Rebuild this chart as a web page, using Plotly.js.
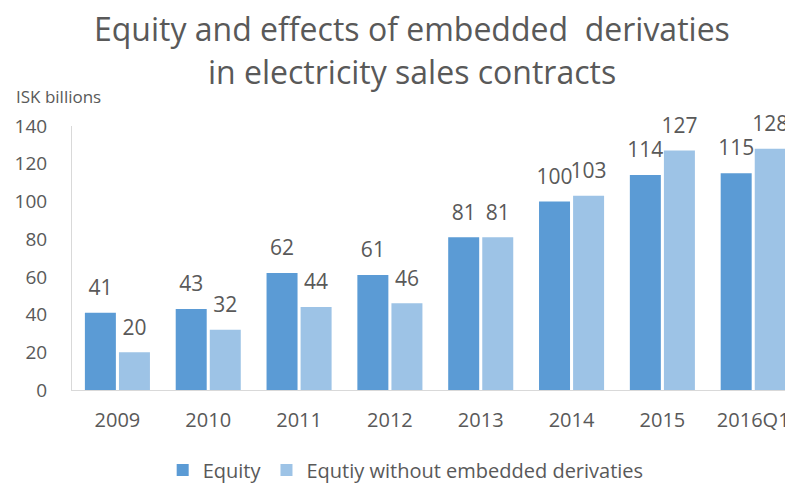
<!DOCTYPE html>
<html>
<head>
<meta charset="utf-8">
<script src="https://cdn.plot.ly/plotly-3.0.1.min.js"></script>
<style>html,body{margin:0;padding:0;background:#fff;}#chart{width:785px;height:486px;}</style>
</head>
<body>
<div id="chart"></div>
<script>
const categories = ["2009","2010","2011","2012","2013","2014","2015","2016Q1"];
const equity = [41,43,62,61,81,100,114,115];
const equityWithout = [20,32,44,46,81,103,127,128];
const seriesNames = ["Equity","Equtiy without embedded derivaties"];

const font = "Open Sans, Calibri, Carlito, sans-serif";
const grey = "#595959";
const labelTpl = "<span style='font-size:21px'>%{y}</span><br>\u00a0";

const traces = [
  {type:"bar", name:seriesNames[0], x:categories, y:equity, marker:{color:"#5B9BD5"},
   texttemplate:labelTpl, textposition:"outside", cliponaxis:false, constraintext:"none",
   textfont:{family:font,size:9,color:grey}, hoverinfo:"none"},
  {type:"bar", name:seriesNames[1], x:categories, y:equityWithout, marker:{color:"#9DC3E6"},
   texttemplate:labelTpl, textposition:"outside", cliponaxis:false, constraintext:"none",
   textfont:{family:font,size:9,color:grey}, hoverinfo:"none"}
];

const layout = {
  width:785, height:486,
  margin:{l:72, r:0, t:126, b:96, autoexpand:false},
  paper_bgcolor:"#fff", plot_bgcolor:"#fff",
  font:{family:font, color:grey},
  barmode:"group", bargap:0.25, bargroupgap:0.09,
  xaxis:{type:"category", range:[-0.5,7.35], showline:true, linecolor:"#D9D9D9", linewidth:1,
         ticks:"", tickfont:{family:font,size:20,color:grey}, showgrid:false, zeroline:false,
         ticklabelstandoff:12, fixedrange:true},
  yaxis:{range:[0,140], dtick:20, showline:true, linecolor:"#D9D9D9", linewidth:1, ticks:"",
         tickfont:{family:font,size:19,color:grey}, showgrid:false, zeroline:false, ticklabelstandoff:20, fixedrange:true},
  showlegend:true,
  legend:{orientation:"h", x:0.468, xanchor:"center", y:-0.303, yanchor:"middle",
          font:{family:font,size:20,color:grey}, tracegroupgap:0},
  annotations:[
    {text:"Equity and effects of embedded  derivaties", xref:"paper", yref:"paper", x:0.477, y:1.371,
     xanchor:"center", yanchor:"middle", showarrow:false, font:{family:font,size:32,color:grey}},
    {text:"in electricity sales contracts", xref:"paper", yref:"paper", x:0.477, y:1.205,
     xanchor:"center", yanchor:"middle", showarrow:false, font:{family:font,size:32,color:grey}},
    {text:"ISK billions", xref:"paper", yref:"paper", x:-0.0813, y:1.11, xanchor:"left", yanchor:"middle",
     showarrow:false, font:{family:font,size:17,color:grey}}
  ]
};
Plotly.newPlot("chart", traces, layout, {staticPlot:true});
</script>
</body>
</html>
